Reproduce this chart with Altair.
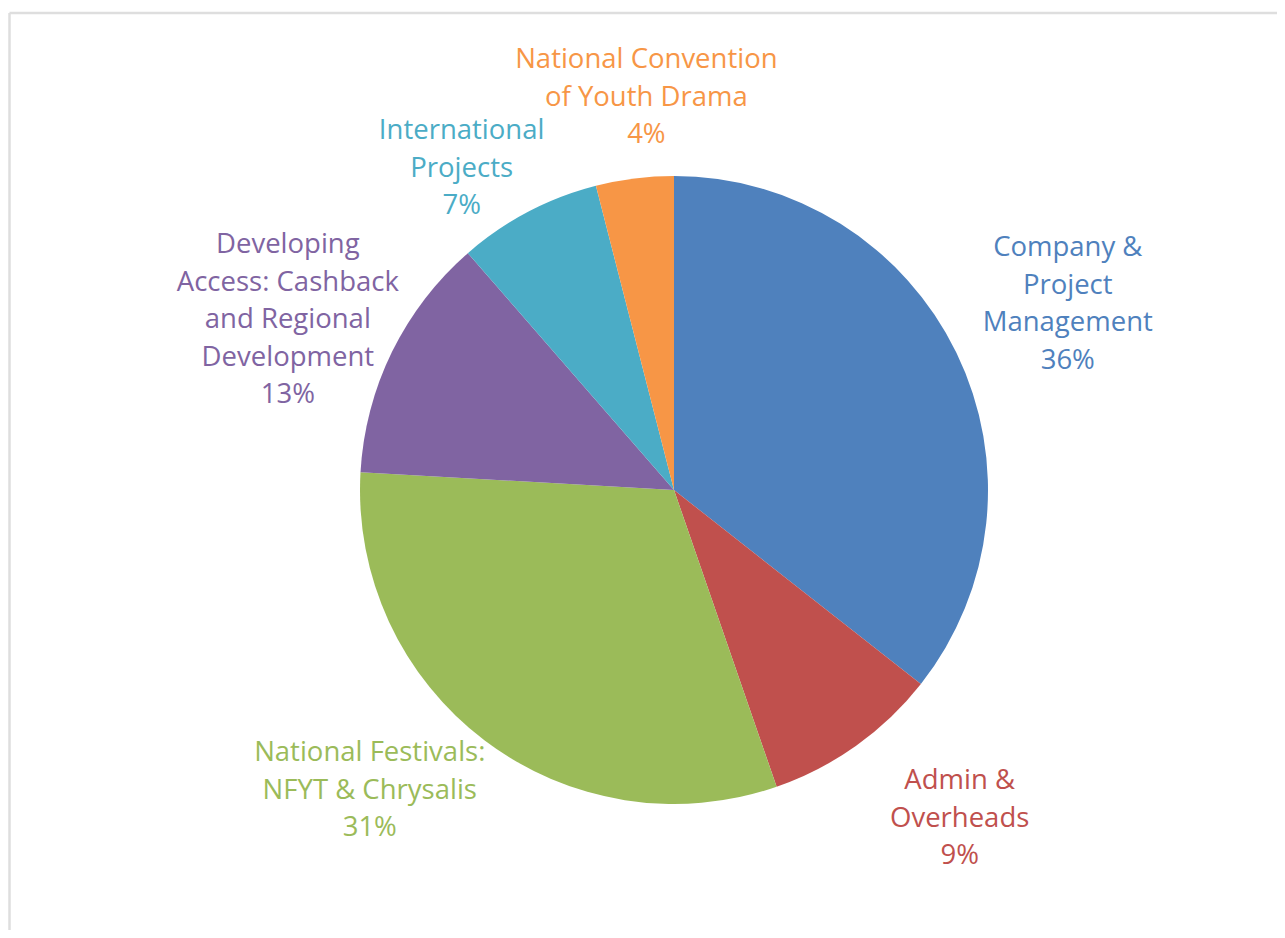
import math
import altair as alt
import pandas as pd

# ---- data ----
categories = [
    "Company & Project Management",
    "Admin & Overheads",
    "National Festivals: NFYT & Chrysalis",
    "Developing Access: Cashback and Regional Development",
    "International Projects",
    "National Convention of Youth Drama",
]
values = [35.6, 9.1, 31.2, 12.7, 7.4, 4.0]
label_lines = [
    "Company &\nProject\nManagement",
    "Admin &\nOverheads",
    "National Festivals:\nNFYT & Chrysalis",
    "Developing\nAccess: Cashback\nand Regional\nDevelopment",
    "International\nProjects",
    "National Convention\nof Youth Drama",
]
colors = ["#4F81BD", "#C0504D", "#9BBB59", "#8064A2", "#4BACC6", "#F79646"]

df = pd.DataFrame({
    "cat": categories,
    "value": values,
    "text": [f"{l}\n{round(v)}%" for l, v in zip(label_lines, values)],
    "idx": list(range(len(categories))),
})

W, H = 1269, 922
CX, CY = 666, 482
R = 314
FONT = "Open Sans"

base = alt.Chart(df)

pie = base.mark_arc(radius=R).encode(
    theta=alt.Theta("value:Q", stack=True),
    color=alt.Color("cat:N", scale=alt.Scale(domain=categories, range=colors), legend=None),
    order=alt.Order("idx:Q"),
    x=alt.value(CX),
    y=alt.value(CY),
)

lab = base.transform_window(
    cum="sum(value)", sort=[alt.SortField("idx")], frame=[None, 0]
).transform_calculate(mid="datum.cum - datum.value / 2")

# per-label nudges (style only)
nudges = [(16, -58), (42, -51), (-51, -72), (-9, -60), (-17, 13), (25, -13)]

layers = [pie]
for c, col, (ddx, ddy) in zip(categories, colors, nudges):
    layers.append(
        lab.transform_filter(alt.datum.cat == c).mark_text(
            radius=420, dx=ddx, dy=ddy, align="center", baseline="middle",
            lineBreak="\n", font=FONT, fontSize=27.5, lineHeight=37.5, color=col,
        ).encode(
            theta=alt.Theta("mid:Q"),
            text="text:N",
            x=alt.value(CX),
            y=alt.value(CY),
        )
    )

frame_df = pd.DataFrame({"k": [0]})
top_rule = alt.Chart(frame_df).mark_rule(color="#dedede", strokeWidth=2.5).encode(
    x=alt.value(1.5), x2=alt.value(W), y=alt.value(5)
)
left_rule = alt.Chart(frame_df).mark_rule(color="#dedede", strokeWidth=2.5).encode(
    x=alt.value(1.5), y=alt.value(5), y2=alt.value(H)
)
layers += [top_rule, left_rule]

chart = alt.layer(*layers).properties(
    width=W, height=H,
    autosize=alt.AutoSizeParams(type="fit", contains="padding"),
    padding=0,
    background="white",
).configure_view(stroke=None)

chart.save("out.html", embed_options={"renderer": "svg", "actions": False})
